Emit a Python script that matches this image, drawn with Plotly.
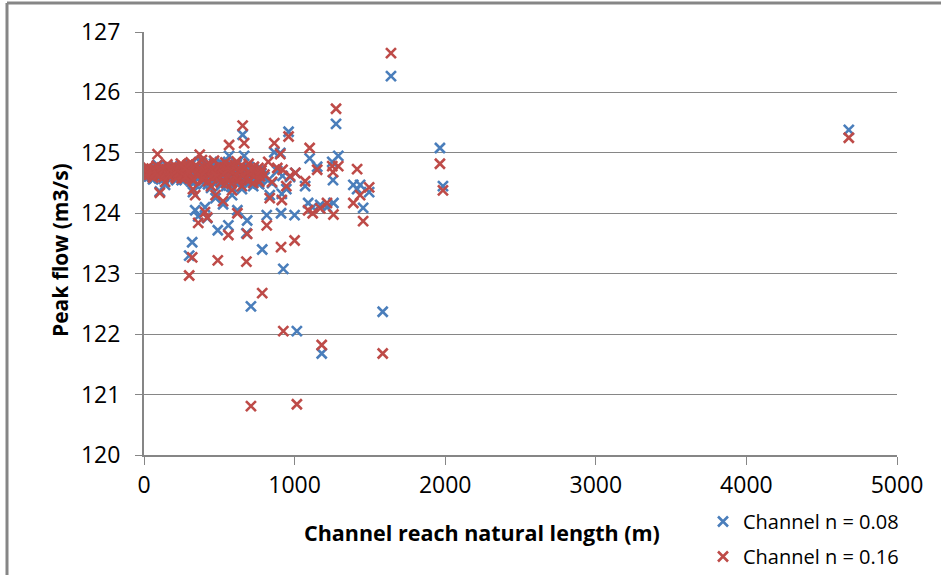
import plotly.graph_objects as go

# Channel reach natural length (m) and peak flow (m3/s) for the two Manning's n values
length_m = [0, 10, 20, 30, 45, 55, 70, 80, 90, 100, 105, 115, 125, 140, 150, 160, 170, 180, 190,
            200, 210, 220, 230, 240, 250, 260, 270, 280, 290, 300, 305, 315, 320, 325, 335, 340,
            350, 360, 370, 380, 395, 405, 415, 420, 430, 445, 460, 475, 490, 495, 505, 515, 525,
            535, 545, 560, 565, 575, 585, 595, 605, 620, 630, 640, 650, 655, 665, 680, 685, 690,
            700, 710, 720, 735, 750, 765, 785, 800, 815, 825, 835, 850, 865, 885, 905, 910, 915,
            920, 925, 945, 960, 970, 1000, 1005, 1015, 1070, 1090, 1100, 1120, 1150, 1170, 1180,
            1215, 1250, 1255, 1258, 1275, 1290, 1390, 1415, 1435, 1455, 1495, 1585, 1640, 1965,
            1985, 4680]

peak_n008 = [124.66, 124.62, 124.70, 124.64, 124.68, 124.60, 124.72, 124.65, 124.80, 124.58, 124.36,
             124.69, 124.63, 124.47, 124.71, 124.66, 124.60, 124.74, 124.64, 124.68, 124.57, 124.72,
             124.62, 124.69, 124.55, 124.76, 124.66, 124.60, 124.73, 123.30, 124.64, 124.52, 123.52,
             124.35, 124.70, 124.05, 124.62, 123.95, 124.85, 124.68, 124.48, 124.10, 124.75, 123.92,
             124.60, 124.42, 124.70, 124.25, 123.72, 124.55, 124.85, 124.62, 124.15, 124.72, 124.45,
             123.80, 124.95, 124.65, 124.30, 124.58, 124.75, 124.05, 124.55, 124.68, 124.40, 125.30,
             124.95, 123.67, 123.88, 124.62, 124.50, 122.46, 124.70, 124.58, 124.65, 124.48, 123.40,
             124.60, 123.97, 124.55, 124.30, 124.50, 125.01, 124.70, 125.00, 124.00, 124.32, 124.62,
             123.08, 124.40, 125.35, 124.60, 123.97, 124.67, 122.05, 124.45, 124.17, 124.91, 124.10,
             124.77, 124.14, 121.68, 124.10, 124.85, 124.55, 124.17, 125.48, 124.95, 124.47, 124.40,
             124.47, 124.09, 124.35, 122.37, 126.27, 125.08, 124.45, 125.38]

peak_n016 = [124.68, 124.64, 124.72, 124.66, 124.70, 124.63, 124.74, 124.67, 124.98, 124.62, 124.34,
             124.71, 124.66, 124.52, 124.73, 124.68, 124.62, 124.76, 124.66, 124.70, 124.60, 124.75,
             124.65, 124.71, 124.58, 124.78, 124.69, 124.63, 124.80, 122.97, 124.67, 124.57, 123.27,
             124.40, 124.74, 124.30, 124.65, 123.84, 124.97, 124.72, 124.55, 124.02, 124.80, 123.93,
             124.65, 124.45, 124.73, 124.30, 123.22, 124.62, 124.78, 124.66, 124.20, 124.76, 124.50,
             123.64, 125.13, 124.70, 124.38, 124.62, 124.80, 124.00, 124.60, 124.72, 124.45, 125.45,
             125.16, 123.20, 123.66, 124.66, 124.55, 120.81, 124.74, 124.62, 124.68, 124.52, 122.68,
             124.64, 123.80, 124.85, 124.25, 124.52, 125.16, 124.75, 124.98, 123.44, 124.22, 124.72,
             122.05, 124.45, 125.27, 124.62, 123.55, 124.67, 120.84, 124.53, 124.05, 125.08, 124.00,
             124.72, 124.08, 121.82, 124.17, 124.78, 124.68, 123.98, 125.73, 124.78, 124.17, 124.73,
             124.30, 123.87, 124.43, 121.68, 126.65, 124.82, 124.38, 125.25]

# Densely packed short reaches (0-780 m)
band_length_m = [5, 15, 25, 35, 40, 50, 60, 65, 75, 85, 95, 110, 120, 130, 135, 145, 155, 165, 175,
                 185, 195, 205, 215, 225, 235, 245, 255, 265, 275, 285, 295, 310, 330, 345, 355, 365,
                 375, 385, 390, 400, 410, 425, 435, 440, 450, 455, 465, 470, 480, 500, 510, 520, 530,
                 540, 550, 555, 570, 580, 590, 600, 610, 615, 625, 635, 645, 660, 670, 675, 695, 705,
                 715, 725, 730, 740, 745, 755, 760, 770, 775, 780]
band_n008 = [124.70, 124.58, 124.74, 124.61, 124.67, 124.72, 124.56, 124.69, 124.63, 124.76,
             124.60, 124.66, 124.73, 124.57, 124.70, 124.64, 124.78, 124.59, 124.68, 124.72,
             124.62, 124.75, 124.55, 124.69, 124.65, 124.79, 124.60, 124.71, 124.57, 124.74,
             124.66, 124.80, 124.50, 124.76, 124.58, 124.70, 124.62, 124.83, 124.54, 124.72,
             124.66, 124.48, 124.78, 124.60, 124.69, 124.53, 124.82, 124.63, 124.57, 124.74,
             124.46, 124.70, 124.60, 124.79, 124.52, 124.67, 124.75, 124.44, 124.63, 124.71,
             124.56, 124.80, 124.49, 124.66, 124.74, 124.58, 124.70, 124.52, 124.77, 124.61,
             124.68, 124.45, 124.72, 124.59, 124.64, 124.50, 124.70, 124.56, 124.62, 124.66]
band_n016 = [124.72, 124.61, 124.76, 124.64, 124.70, 124.74, 124.59, 124.72, 124.66, 124.79,
             124.63, 124.69, 124.76, 124.60, 124.73, 124.67, 124.81, 124.62, 124.71, 124.75,
             124.65, 124.78, 124.58, 124.72, 124.68, 124.82, 124.63, 124.74, 124.60, 124.77,
             124.69, 124.84, 124.55, 124.80, 124.62, 124.74, 124.66, 124.88, 124.58, 124.76,
             124.70, 124.53, 124.82, 124.64, 124.73, 124.58, 124.87, 124.67, 124.62, 124.78,
             124.51, 124.75, 124.65, 124.84, 124.57, 124.72, 124.80, 124.49, 124.68, 124.76,
             124.61, 124.86, 124.54, 124.71, 124.79, 124.63, 124.75, 124.57, 124.82, 124.66,
             124.73, 124.50, 124.77, 124.64, 124.69, 124.55, 124.75, 124.61, 124.67, 124.71]

series_names = ["Channel n = 0.08", "Channel n = 0.16"]
x_ticks = [0, 1000, 2000, 3000, 4000, 5000]
y_ticks = [120, 121, 122, 123, 124, 125, 126, 127]

BLUE = "#4a7ebb"
RED = "#be4b48"
GRID = "#868686"
FONT = "Open Sans"

all_len = length_m + band_length_m
fig = go.Figure()
fig.add_trace(go.Scatter(
    x=all_len, y=peak_n008 + band_n008, mode="markers", name=series_names[0], legendgroup="a",
    marker=dict(symbol="x-thin", size=10, color=BLUE, line=dict(width=2.6, color=BLUE)),
))
fig.add_trace(go.Scatter(
    x=all_len, y=peak_n016 + band_n016, mode="markers", name=series_names[1], legendgroup="b",
    marker=dict(symbol="x-thin", size=10, color=RED, line=dict(width=2.6, color=RED)),
))

W, H = 941, 575
L, R, T, B = 144, 44, 32, 120
pw, ph = W - L - R, H - T - B

def px(xp):
    return (xp - L) / pw

def py(yp):
    return (H - B - yp) / ph

fig.update_layout(
    width=W, height=H,
    margin=dict(l=L, r=R, t=T, b=B, pad=0, autoexpand=False),
    paper_bgcolor="white", plot_bgcolor="white",
    font=dict(family=FONT, size=22, color="#000000"),
    xaxis=dict(range=[0, 5000], tickvals=x_ticks, ticks="outside", ticklen=8, tickwidth=1,
               tickcolor=GRID, showline=True, linecolor=GRID, linewidth=2, showgrid=False,
               zeroline=False, tickfont=dict(size=23, family=FONT), ticklabelstandoff=0),
    yaxis=dict(range=[120, 127], tickvals=y_ticks, ticks="outside", ticklen=7, tickwidth=1,
               tickcolor=GRID, showline=True, linecolor=GRID, linewidth=2, showgrid=True,
               gridcolor=GRID, gridwidth=1, zeroline=False, tickfont=dict(size=23, family=FONT),
               ticklabelstandoff=10),
    legend=dict(x=px(703), y=py(502), xanchor="left", yanchor="top", bgcolor="rgba(0,0,0,0)",
                font=dict(size=20, family=FONT), itemwidth=30, tracegroupgap=6,
                traceorder="grouped"),
    annotations=[
        dict(text="<b>Channel reach natural length (m)</b>", xref="paper", yref="paper",
             x=px(482), y=py(532), xanchor="center", yanchor="middle", showarrow=False,
             font=dict(size=21.5, family=FONT)),
        dict(text="<b>Peak flow (m3/s)</b>", xref="paper", yref="paper",
             x=px(60), y=py(250), xanchor="center", yanchor="middle", showarrow=False,
             textangle=-90, font=dict(size=21, family=FONT)),
    ],
    shapes=[
        dict(type="line", xref="paper", yref="paper", x0=px(7), x1=px(950), y0=py(3), y1=py(3),
             line=dict(color=GRID, width=3), layer="below"),
        dict(type="line", xref="paper", yref="paper", x0=px(7), x1=px(7), y0=py(3), y1=py(590),
             line=dict(color=GRID, width=3), layer="below"),
    ],
)

fig.write_html("out.html", config={"displayModeBar": False},
               post_script="document.body.style.margin='0';document.body.style.overflow='hidden';")
